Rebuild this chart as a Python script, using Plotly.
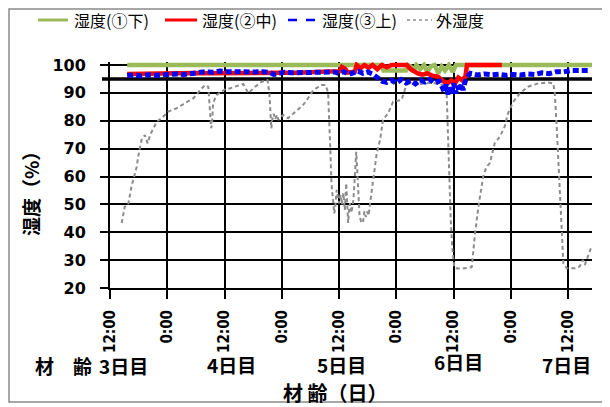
import plotly.graph_objects as go

# ---------------- data ----------------
# time axis: hours elapsed since 12:00 on day 3 (材齢3日目)
tick_hours = [0, 12, 24, 36, 48, 60, 72, 84, 96]
tick_labels = ["12:00", "0:00", "12:00", "0:00", "12:00", "0:00", "12:00", "0:00", "12:00"]
day_labels = ["3日目", "4日目", "5日目", "6日目", "7日目"]
day_prefix = "材齢"
y_ticks = [20, 30, 40, 50, 60, 70, 80, 90, 100]

green_h = [3.6, 57.0, 57.3, 62.0, 62.4, 63.0, 63.5, 64.2, 65.0, 65.8, 66.5, 67.2, 68.0,
           68.8, 69.5, 70.2, 71.0, 71.8, 72.5, 73.2, 101.0]
green_v = [100, 100, 98, 98, 100, 99.5, 97.5, 100, 98.5, 100, 97.5, 99.5, 100,
           97, 99.5, 98, 100, 97.5, 100, 100, 100]

red_h = [3.6, 6, 9, 12, 15, 18, 21, 24, 27, 30, 33, 36, 39, 42, 45, 47.5, 48.2, 48.6, 49.3,
         49.8, 50.5, 51.3, 51.7, 52.5, 53.3, 54.2, 55.0, 56.0, 57.0, 58.0, 59.0, 61.0, 62.2,
         63.0, 63.9, 64.5, 65.5, 66.5, 67.5, 68.7, 69.3, 70.0, 70.8, 71.5, 72.2, 73.0, 73.8,
         74.5, 74.8, 76, 78, 80, 82.1]
red_v = [96.8, 96.9, 96.8, 97.0, 96.9, 97.1, 97.0, 97.1, 97.2, 97.1, 97.3, 97.2, 97.2, 97.3,
         97.3, 97.4, 97.8, 99.3, 98.6, 97.3, 97.5, 97.6, 100, 98.8, 100, 99.0, 100, 98.5, 100,
         99.2, 100, 100, 100, 98.5, 97.5, 97.0, 96.5, 97.0, 96.2, 95.8, 95.0, 94.0, 93.5, 94.5,
         93.0, 95.5, 94.5, 96.0, 100, 100, 100, 100, 100]

blue_h = [3.6, 5, 6.5, 8, 9.5, 11, 12.5, 14, 15.5, 17, 18.5, 20, 21.5, 23, 24.5, 26, 27.5,
          29, 30.5, 32, 33.5, 34.3, 35.2, 36.5, 38, 39.5, 41, 42.5, 44, 45.5, 47, 48, 49,
          50, 51, 52, 53, 54, 55, 56, 57, 58, 59, 60, 61, 62, 63, 64, 65, 66, 67, 68, 69,
          69.5, 70, 70.4, 70.8, 71.2, 71.6, 72, 72.4, 72.8, 73.2, 73.6, 74, 74.4, 74.8, 75.5,
          77, 78.5, 80, 81.5, 83, 84.5, 86, 87.5, 89, 90.5, 92, 93.5, 95, 96.5, 98, 99.5, 100.5]
blue_v = [96.2, 96.4, 96.1, 96.5, 96.3, 96.6, 96.5, 96.8, 96.6, 96.9, 97.0, 97.6, 97.4, 97.8,
          97.6, 97.5, 97.7, 97.4, 97.5, 97.6, 97.3, 96.6, 97.0, 97.4, 97.2, 97.3, 97.1, 97.4,
          97.2, 97.4, 97.5, 97.0, 97.6, 96.6, 97.3, 97.8, 97.0, 97.5, 96.8, 95.5, 94.2, 93.8,
          94.5, 93.5, 94.8, 93.6, 94.4, 93.2, 94.6, 93.9, 94.8, 93.5, 94.2, 92.5, 90.5, 93.0,
          89.5, 92.0, 90.0, 93.5, 89.8, 92.5, 90.5, 93.2, 91.0, 94.0, 95.5, 97.0, 96.4, 96.8,
          96.5, 96.7, 96.3, 96.6, 96.4, 96.8, 96.6, 97.2, 96.9, 97.6, 97.5, 98.0, 98.1, 97.9, 98.0]

gray_h = [2.45, 3.1, 3.8, 4.5, 5.6, 5.9, 6.6, 7.3, 7.9, 8.4, 9.8, 10.8, 12.2, 14.0, 15.7, 17.5,
          18.9, 19.9, 20.6, 20.9, 21.2, 21.4, 21.6, 22.3, 23.4, 24.4, 25.1, 26.9, 27.9, 29.0,
          30.4, 31.8, 33.0, 33.4, 33.6, 33.8, 34.0, 34.3, 34.6, 35.0, 35.3, 36.3, 37.3, 38.8,
          40.5, 41.5, 42.6, 44.3, 45.2, 45.7, 46.0, 46.2, 46.4, 46.6, 46.8, 47.0, 47.2, 47.5,
          47.8, 48.0, 48.3, 48.6, 48.9, 49.2, 49.5, 49.7, 49.9, 50.1, 50.3, 50.6, 51.0, 51.3,
          51.6, 51.8, 52.0, 52.3, 52.6, 53.0, 53.3, 53.6, 53.9, 54.2, 54.5, 55.2, 55.9, 56.6,
          57.2, 58.3, 59.3, 61.1, 61.8, 62.1, 63.0, 65.0, 67.0, 69.0, 70.5, 70.9, 71.2, 71.4,
          71.7, 72.1, 72.3, 73.7, 75.8, 76.5, 77.2, 78.2, 78.9, 79.6, 80.6, 81.7, 82.7, 83.4,
          84.5, 85.9, 87.6, 89.7, 91.8, 92.9, 93.2, 93.6, 94.3, 94.6, 95.0, 95.7, 97.4, 98.4,
          99.1, 99.5, 100.2, 100.9]
gray_v = [43.3, 49.2, 49.8, 56.4, 63.5, 67.1, 73.1, 74.9, 71.9, 74.9, 79.7, 80.9, 83.3, 84.5,
          86.3, 88.1, 91.0, 92.8, 92.2, 85.1, 77.3, 79.1, 86.3, 89.2, 90.4, 91.6, 91.6, 92.8,
          93.2, 89.9, 92.2, 94.0, 94.6, 89.9, 83.9, 77.3, 80.3, 82.5, 80.5, 82.1, 80.3, 82.1,
          80.9, 83.3, 85.7, 88.1, 91.0, 92.8, 92.8, 90.0, 80.0, 68.4, 57.6, 52.0, 50.4, 46.8,
          49.0, 55.2, 52.0, 50.4, 53.5, 50.0, 54.0, 48.0, 57.6, 52.0, 43.3, 48.0, 50.4, 47.0,
          51.6, 60.0, 68.9, 62.4, 54.0, 45.6, 44.0, 43.3, 47.5, 45.5, 47.4, 46.0, 50.4, 58.8,
          68.4, 73.1, 80.3, 82.7, 86.8, 87.5, 91.0, 92.8, 93.5, 93.2, 93.6, 93.3, 92.2, 66.0,
          55.0, 44.4, 34.9, 28.0, 27.1, 26.9, 27.5, 39.7, 49.2, 60.0, 63.5, 64.8, 71.9, 74.3,
          77.9, 82.7, 86.8, 89.9, 92.2, 93.4, 93.7, 93.4, 89.9, 77.9, 50.4, 39.7, 28.9, 27.1,
          27.1, 27.7, 30.1, 28.3, 31.3, 34.9]

series_names = ["湿度(①下)", "湿度(②中)", "湿度(③上)", "外湿度"]
ref_level = 95

# ---------------- layout helpers ----------------
# the page body adds an 8px margin, so the figure is 8px smaller than the window
OFF = 8
W, H = 610 - OFF, 407 - OFF
ML, MR, MT, MB = 110 - OFF, 18, 62 - OFF, 119
PW, PH = W - ML - MR, H - MT - MB


def px(x):  # window pixel -> paper x
    return (x - OFF - ML) / PW


def py(y):  # window pixel -> paper y
    return (H - MB - (y - OFF)) / PH


CJK = "Noto Sans CJK JP"
GREEN, RED, BLUE, GRAY = "#9BBB59", "#FF0000", "#0000FF", "#8C8C8C"

fig = go.Figure()
fig.add_trace(go.Scatter(x=green_h, y=green_v, mode="lines", name=series_names[0],
                         line=dict(color=GREEN, width=4.5), showlegend=False))
fig.add_trace(go.Scatter(x=red_h, y=red_v, mode="lines", name=series_names[1],
                         line=dict(color=RED, width=4.5), showlegend=False))
fig.add_trace(go.Scatter(x=gray_h, y=gray_v, mode="lines", name=series_names[3],
                         line=dict(color=GRAY, width=2, dash="4px,3px"), showlegend=False))
fig.add_trace(go.Scatter(x=blue_h, y=blue_v, mode="lines", name=series_names[2],
                         line=dict(color=BLUE, width=5, dash="6px,3px"), showlegend=False))

shapes = []
# reference line at 95 %
shapes.append(dict(type="line", xref="paper", yref="y", x0=px(102), x1=1.0,
                   y0=ref_level, y1=ref_level, line=dict(color="black", width=3.5),
                   layer="between"))
# outer chart frame
shapes.append(dict(type="rect", xref="paper", yref="paper", x0=px(OFF + 1), x1=px(605),
                   y0=py(402), y1=py(OFF + 1), line=dict(color="#8A8A8A", width=1.5)))

# custom legend
leg_y = 20
leg_items = [
    (38, 68, 72, GREEN, "solid", 3),
    (165, 197, 200, RED, "solid", 3),
    (288, 318, 320, BLUE, "dash", 2.5),
    (407, 432, 434, GRAY, "dot", 1.5),
]
annotations = []
for (x0, x1, xt, col, dsh, wd), name in zip(leg_items, series_names):
    shapes.append(dict(type="line", xref="paper", yref="paper", x0=px(x0), x1=px(x1),
                       y0=py(leg_y), y1=py(leg_y), line=dict(color=col, width=wd, dash=dsh)))
    annotations.append(dict(x=px(xt), y=py(leg_y), xref="paper", yref="paper", text=name,
                            showarrow=False, xanchor="left", yanchor="middle",
                            font=dict(family=CJK, size=16, color="black")))

# day labels under the time axis
day_pos = [(123, 365), (231, 364), (341, 364), (458, 361), (566, 364)]
for (dx, dy), lab in zip(day_pos, day_labels):
    annotations.append(dict(x=px(dx), y=py(dy), xref="paper", yref="paper", text=lab,
                            showarrow=False, xanchor="center", yanchor="middle",
                            font=dict(family=CJK, size=19, color="black", weight="bold")))
annotations.append(dict(x=px(94), y=py(365), xref="paper", yref="paper",
                        text=day_prefix[0] + "\u2003" + day_prefix[1],
                        showarrow=False, xanchor="right", yanchor="middle",
                        font=dict(family=CJK, size=19, color="black", weight="bold")))

# axis titles
annotations.append(dict(x=px(335), y=py(392), xref="paper", yref="paper", text="材 齢（日）",
                        showarrow=False, xanchor="center", yanchor="middle",
                        font=dict(family=CJK, size=20, color="black", weight="bold")))
annotations.append(dict(x=px(30), y=py(189), xref="paper", yref="paper", text="湿度（%）",
                        showarrow=False, xanchor="center", yanchor="middle", textangle=-90,
                        font=dict(family=CJK, size=19, color="black", weight="bold")))

fig.update_layout(
    width=W, height=H,
    margin=dict(l=ML, r=MR, t=MT, b=MB, autoexpand=False),
    paper_bgcolor="white", plot_bgcolor="white",
    shapes=shapes, annotations=annotations,
    xaxis=dict(range=[0, 101], tickmode="array", tickvals=tick_hours, ticktext=tick_labels,
               tickangle=-90, showgrid=True, gridcolor="black", gridwidth=2,
               showline=True, linecolor="black", linewidth=2,
               ticks="outside", ticklen=9, tickwidth=2, tickcolor="black",
               ticklabelstandoff=5, automargin=False,
               tickfont=dict(family="DejaVu Sans Condensed, DejaVu Sans", size=15,
                             color="black", weight="bold"),
               zeroline=False, fixedrange=True),
    yaxis=dict(range=[20, 100 + 3 / 2.7875], tickmode="array", tickvals=y_ticks,
               showgrid=True, gridcolor="black", gridwidth=2,
               showline=True, linecolor="black", linewidth=2,
               ticks="outside", ticklen=8, tickwidth=2, tickcolor="black",
               ticklabelstandoff=11, automargin=False,
               tickfont=dict(family="DejaVu Sans", size=16, color="black", weight="bold"),
               zeroline=False, fixedrange=True),
)

fig.write_html("out.html")
